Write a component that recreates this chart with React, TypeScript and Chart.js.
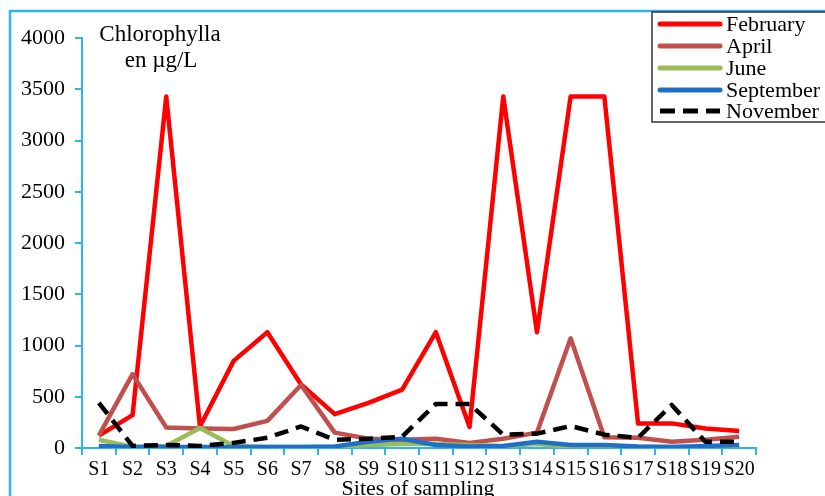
import React, { useEffect, useRef } from "react";
import { Chart, registerables } from "chart.js";

Chart.register(...registerables);

const categories = ["S1","S2","S3","S4","S5","S6","S7","S8","S9","S10","S11","S12","S13","S14","S15","S16","S17","S18","S19","S20"];
const february = [120, 320, 3430, 210, 850, 1130, 620, 330, 440, 570, 1130, 205, 3430, 1130, 3430, 3430, 240, 240, 190, 165];
const april = [120, 720, 200, 190, 185, 265, 615, 150, 90, 80, 90, 50, 90, 150, 1070, 105, 100, 60, 80, 110];
const june = [80, 10, 20, 195, 20, 10, 10, 10, 30, 40, 40, 30, 20, 40, 10, 10, 10, 10, 10, 10];
const september = [20, 10, 10, 10, 10, 10, 10, 15, 60, 90, 30, 15, 20, 60, 30, 30, 15, 10, 20, 30];
const november = [440, 20, 30, 20, 50, 100, 210, 80, 90, 110, 430, 430, 130, 140, 215, 130, 100, 420, 60, 60];
const yTicks = [0, 500, 1000, 1500, 2000, 2500, 3000, 3500, 4000];

const AXIS_BLUE = "#2FB2EE";
const SERIF = "'Liberation Serif', 'Times New Roman', serif";

const decorPlugin = {
  id: "decor",
  beforeDraw(chart: any) {
    const ctx = chart.ctx;
    ctx.save();
    ctx.fillStyle = "#ffffff";
    ctx.fillRect(0, 0, chart.width, chart.height);
    ctx.strokeStyle = AXIS_BLUE;
    ctx.lineWidth = 2.5;
    ctx.strokeRect(10, 11, chart.width + 20, chart.height + 20);
    ctx.restore();
  },
  afterDraw(chart: any) {
    const ctx = chart.ctx;
    ctx.save();
    ctx.fillStyle = "#000";
    ctx.font = `23px ${SERIF}`;
    ctx.textAlign = "center";
    ctx.textBaseline = "alphabetic";
    ctx.fillText("Chlorophylla", 160, 41);
    ctx.fillText("en µg/L", 161, 67);
    ctx.font = `22px ${SERIF}`;
    ctx.fillText("Sites of sampling", 418, 495);

    // legend
    const bx = 652, by = 12, bw = 180, bh = 110;
    ctx.fillStyle = "#fff";
    ctx.fillRect(bx, by, bw, bh);
    ctx.strokeStyle = "#333";
    ctx.lineWidth = 1.5;
    ctx.strokeRect(bx, by, bw, bh);
    const rows = [24, 46, 68, 90, 111];
    chart.data.datasets.forEach((ds: any, i: number) => {
      const y = rows[i];
      ctx.beginPath();
      ctx.strokeStyle = ds.borderColor;
      ctx.lineWidth = 5;
      ctx.lineCap = ds.borderDash ? "butt" : "round";
      ctx.setLineDash(ds.borderDash ? [15, 8] : []);
      ctx.moveTo(660, y);
      ctx.lineTo(720, y);
      ctx.stroke();
      ctx.setLineDash([]);
      ctx.fillStyle = "#000";
      ctx.font = `22px ${SERIF}`;
      ctx.textAlign = "left";
      ctx.textBaseline = "middle";
      ctx.fillText(ds.label, 726, y + 1);
    });
    ctx.restore();
  },
};

export default function App() {
  const ref = useRef<HTMLCanvasElement>(null);
  useEffect(() => {
    document.body.style.margin = "0";
    const mk = (label: string, data: number[], color: string, order: number, dash?: number[]) => ({
      label,
      data,
      borderColor: color,
      backgroundColor: color,
      borderWidth: 4.5,
      pointRadius: 0,
      tension: 0,
      order,
      borderDash: dash,
      borderCapStyle: "butt" as const,
      borderJoinStyle: "round" as const,
    });
    const chart = new Chart(ref.current!, {
      type: "line",
      data: {
        labels: categories,
        datasets: [
          mk("February", february, "#FF0000", 5),
          mk("April", april, "#C0504D", 4),
          mk("June", june, "#9BBB59", 3),
          mk("September", september, "#1F6FC8", 2),
          mk("November", november, "#000000", 1, [14, 8]),
        ],
      },
      options: {
        animation: false,
        responsive: false,
        events: [],
        layout: { padding: { top: 38, right: 69, left: 0, bottom: 0 } },
        plugins: { legend: { display: false }, tooltip: { enabled: false } },
        scales: {
          x: {
            offset: true,
            grid: { offset: true, drawOnChartArea: false, drawTicks: true, tickLength: 7, color: AXIS_BLUE, lineWidth: 2 },
            border: { color: AXIS_BLUE, width: 2 },
            ticks: { color: "#000", font: { family: SERIF, size: 20 }, padding: 3, maxRotation: 0, autoSkip: false },
            afterFit: (s: any) => { s.height = 48; },
          },
          y: {
            min: 0,
            max: 4000,
            afterBuildTicks: (s: any) => { s.ticks = yTicks.map((v) => ({ value: v })); },
            grid: { drawOnChartArea: false, drawTicks: true, tickLength: 7, color: AXIS_BLUE, lineWidth: 2 },
            border: { color: AXIS_BLUE, width: 2 },
            ticks: { color: "#000", font: { family: SERIF, size: 22 }, padding: 10, callback: (v: any) => String(v) },
            afterFit: (s: any) => { s.width = 82; },
          },
        },
      },
      plugins: [decorPlugin],
    });
    return () => chart.destroy();
  }, []);
  return <canvas ref={ref} width={825} height={496} style={{ display: "block" }} />;
}
